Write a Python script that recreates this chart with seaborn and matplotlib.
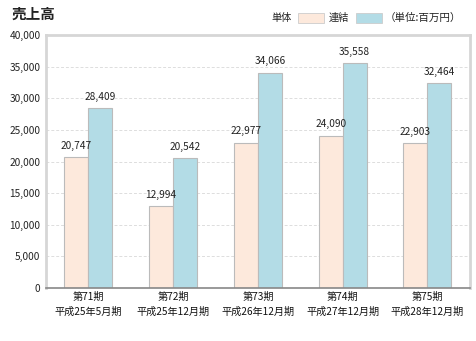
import matplotlib
matplotlib.use("Agg")
import matplotlib.pyplot as plt
import matplotlib.patches as mpatches
import seaborn as sns
import pandas as pd

periods = ["第71期\n平成25年5月期", "第72期\n平成25年12月期", "第73期\n平成26年12月期",
           "第74期\n平成27年12月期", "第75期\n平成28年12月期"]
series_names = ["単体", "連結"]
single = [20747, 12994, 22977, 24090, 22903]
consolidated = [28409, 20542, 34066, 35558, 32464]
yticks = [0, 5000, 10000, 15000, 20000, 25000, 30000, 35000, 40000]

colors = ["#FDE9DC", "#B3DCE6"]

df = pd.DataFrame({
    "period": periods * 2,
    "series": [series_names[0]] * len(periods) + [series_names[1]] * len(periods),
    "value": single + consolidated,
})

sns.set_theme(style="white")
plt.rcParams["font.family"] = ["Noto Sans CJK JP", "DejaVu Sans"]

fig = plt.figure(figsize=(4.76, 3.41), dpi=100)
ax = fig.add_axes([0.0966, 0.1554, 0.8904, 0.7416])

sns.barplot(data=df, x="period", y="value", hue="series", palette=colors,
            width=0.566, gap=0, edgecolor="#BBBBBB", linewidth=0.8,
            saturation=1, legend=False, ax=ax)

for cont in ax.containers:
    labels = [f"{int(b.get_height()):,}" for b in cont]
    ax.bar_label(cont, labels=labels, padding=4.5, fontsize=7.3, color="#222222")

ax.set_ylim(0, 40000)
ax.set_yticks(yticks)
ax.set_yticklabels([f"{v:,}" for v in yticks], fontsize=7.3, color="#222222")
ax.set_xlim(-0.5, len(periods) - 0.5)
ax.tick_params(axis="x", labelsize=7.3, colors="#111111", length=0, pad=3)
for lbl in ax.get_xticklabels():
    lbl.set_linespacing(1.5)
ax.tick_params(axis="y", length=0, pad=4)
ax.set_xlabel("")
ax.set_ylabel("")

ax.yaxis.grid(True, linestyle=(0, (3, 2)), color="#DDDDDD", linewidth=0.7)
ax.set_axisbelow(True)

for side in ["left", "top", "right"]:
    ax.spines[side].set_visible(True)
    ax.spines[side].set_color("#D6D6D6")
    ax.spines[side].set_linewidth(2)
ax.spines["bottom"].set_color("#888888")
ax.spines["bottom"].set_linewidth(1.2)

fig.text(0.025, 0.96, "売上高", fontsize=10.5, fontweight="bold", color="#222222",
         va="center", ha="left")

# legend row in the header
y_leg = 0.947
fig.text(0.571, y_leg, series_names[0], fontsize=7.3, va="center", ha="left", color="#222222")
fig.patches.append(mpatches.Rectangle((0.626, y_leg - 0.015), 0.055, 0.03,
                                      transform=fig.transFigure, facecolor=colors[0],
                                      edgecolor="#CCCCCC", linewidth=0.6))
fig.text(0.691, y_leg, series_names[1], fontsize=7.3, va="center", ha="left", color="#222222")
fig.patches.append(mpatches.Rectangle((0.748, y_leg - 0.015), 0.055, 0.03,
                                      transform=fig.transFigure, facecolor=colors[1],
                                      edgecolor="#CCCCCC", linewidth=0.6))
fig.text(0.808, y_leg, "（単位:百万円）", fontsize=7.6, va="center", ha="left", color="#222222")

fig.savefig("out.png", dpi=100)
